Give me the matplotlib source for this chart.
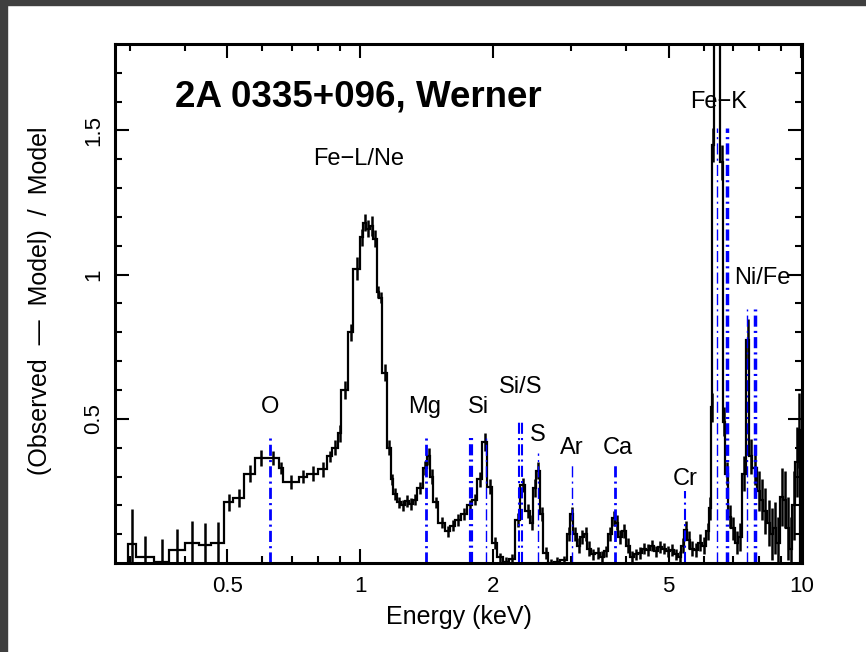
import numpy as np
import matplotlib
matplotlib.use("Agg")
import matplotlib.pyplot as plt
from matplotlib.patches import Rectangle
from matplotlib.ticker import NullFormatter

plt.rcParams['font.family'] = ['Liberation Sans', 'DejaVu Sans']
plt.rcParams['lines.scale_dashes'] = False

# residual spectrum: bin edges (keV), (obs - model) / model and 1-sigma errors
edges = [
    0.298, 0.310, 0.341, 0.369, 0.401, 0.431, 0.459, 0.492, 0.515, 0.546,
    0.578, 0.612, 0.655, 0.669, 0.728, 0.759, 0.803, 0.841, 0.864, 0.891,
    0.906, 0.939, 0.964, 1.000, 1.016, 1.032, 1.054, 1.070, 1.093, 1.104,
    1.122, 1.151, 1.176, 1.188, 1.213, 1.239, 1.265, 1.291, 1.319, 1.347,
    1.390, 1.418, 1.441, 1.463, 1.503, 1.559, 1.600, 1.643, 1.694, 1.748,
    1.795, 1.843, 1.892, 1.942, 1.992, 2.045, 2.110, 2.177, 2.246, 2.306,
    2.367, 2.430, 2.469, 2.508, 2.560, 2.601, 2.671, 2.754, 2.842, 2.947,
    2.994, 3.043, 3.107, 3.155, 3.221, 3.272, 3.340, 3.411, 3.502, 3.576,
    3.651, 3.728, 3.787, 3.847, 3.928, 4.011, 4.095, 4.181, 4.270, 4.360,
    4.452, 4.546, 4.642, 4.740, 4.840, 4.942, 5.046, 5.152, 5.261, 5.343,
    5.428, 5.513, 5.601, 5.719, 5.840, 5.964, 6.090, 6.185, 6.251, 6.284,
    6.350, 6.449, 6.552, 6.655, 6.725, 6.831, 6.939, 7.086, 7.198, 7.350,
    7.505, 7.624, 7.744, 7.943, 8.073, 8.200, 8.373, 8.506, 8.641, 8.777,
    8.962, 9.104, 9.247, 9.393, 9.541, 9.691, 9.845, 9.948,
]
ratio = [
    0.066, 0.020, 0.003, 0.045, 0.070, 0.063, 0.070, 0.210, 0.225, 0.310,
    0.365, 0.365, 0.330, 0.280, 0.300, 0.310, 0.325, 0.370, 0.400, 0.450,
    0.600, 0.800, 1.020, 1.130, 1.180, 1.160, 1.170, 1.125, 0.940, 0.920,
    0.660, 0.400, 0.290, 0.240, 0.210, 0.200, 0.215, 0.205, 0.220, 0.260,
    0.330, 0.370, 0.300, 0.210, 0.140, 0.110, 0.130, 0.150, 0.170, 0.200,
    0.220, 0.290, 0.420, 0.265, 0.070, 0.020, 0.005, 0.015, 0.150, 0.270,
    0.180, 0.140, 0.260, 0.320, 0.170, 0.035, 0.000, 0.005, 0.010, 0.100,
    0.170, 0.100, 0.060, 0.090, 0.100, 0.050, 0.030, 0.035, 0.020, 0.040,
    0.100, 0.155, 0.140, 0.090, 0.110, 0.060, 0.020, 0.030, 0.035, 0.050,
    0.045, 0.060, 0.040, 0.055, 0.050, 0.040, 0.045, 0.030, 0.020, 0.060,
    0.115, 0.080, 0.050, 0.045, 0.070, 0.060, 0.110, 0.190, 0.540, 1.450,
    2.400, 2.200, 1.390, 0.490, 0.310, 0.160, 0.120, 0.070, 0.090, 0.310,
    0.775, 0.370, 0.330, 0.250, 0.220, 0.180, 0.140, 0.100, 0.120, 0.070,
    0.230, 0.220, 0.120, 0.050, 0.200, 0.350, 0.460,
]
ratio_err = [
    0.120, 0.075, 0.080, 0.073, 0.076, 0.076, 0.072, 0.028, 0.030, 0.030,
    0.028, 0.025, 0.020, 0.025, 0.022, 0.025, 0.025, 0.020, 0.025, 0.030,
    0.030, 0.030, 0.040, 0.030, 0.030, 0.030, 0.035, 0.030, 0.020, 0.020,
    0.030, 0.025, 0.020, 0.020, 0.020, 0.020, 0.020, 0.020, 0.020, 0.020,
    0.025, 0.030, 0.025, 0.020, 0.020, 0.020, 0.020, 0.020, 0.020, 0.020,
    0.020, 0.025, 0.030, 0.025, 0.020, 0.015, 0.015, 0.015, 0.025, 0.025,
    0.025, 0.025, 0.030, 0.030, 0.025, 0.020, 0.015, 0.015, 0.015, 0.025,
    0.025, 0.025, 0.025, 0.025, 0.025, 0.025, 0.020, 0.020, 0.020, 0.020,
    0.025, 0.025, 0.025, 0.025, 0.025, 0.025, 0.020, 0.020, 0.020, 0.020,
    0.020, 0.020, 0.020, 0.020, 0.020, 0.020, 0.020, 0.020, 0.020, 0.025,
    0.030, 0.030, 0.025, 0.025, 0.030, 0.030, 0.030, 0.040, 0.050, 0.060,
    0.080, 0.080, 0.060, 0.050, 0.040, 0.040, 0.040, 0.040, 0.050, 0.060,
    0.070, 0.060, 0.060, 0.070, 0.070, 0.080, 0.080, 0.090, 0.090, 0.090,
    0.100, 0.100, 0.110, 0.110, 0.120, 0.120, 0.130,
]

# redshifted line energies (keV) and marker heights
line_energy = [0.625, 1.411, 1.785, 1.93, 2.295, 2.33, 2.53, 3.02, 3.77, 5.46,
               6.45, 6.77, 7.53, 7.83]
line_top = [0.44, 0.44, 0.44, 0.44, 0.50, 0.50, 0.38, 0.35, 0.35, 0.25,
            1.51, 1.51, 0.88, 0.88]
line_lw = [2.0, 2.0, 3.0, 1.0, 1.5, 1.5, 1.0, 1.0, 2.0, 1.5, 1.0, 2.5, 1.0, 2.5]

labels = ['O', 'Mg', 'Si', 'Si/S', 'S', 'Ar', 'Ca', 'Cr', 'Fe\u2212K', 'Ni/Fe',
          'Fe\u2212L/Ne']
label_xy = [(0.625, 0.54), (1.40, 0.54), (1.85, 0.54), (2.31, 0.61),
            (2.53, 0.445), (3.01, 0.40), (3.83, 0.40), (5.46, 0.29),
            (6.49, 1.60), (8.15, 0.99), (0.99, 1.40)]

edges = np.array(edges)
ratio = np.array(ratio)
ratio_err = np.array(ratio_err)

fig = plt.figure(figsize=(8.66, 6.52), dpi=100)
ax = fig.add_axes([115 / 866, 1 - 563 / 652, 687 / 866, 519 / 652])

ax.stairs(ratio, edges, color='k', lw=1.6)
centers = np.sqrt(edges[:-1] * edges[1:])
ax.vlines(centers, ratio - ratio_err, ratio + ratio_err, colors='k', lw=1.8)

for e, top, lw in zip(line_energy, line_top, line_lw):
    ax.plot([e, e], [0, top], color='#0000ff', lw=lw,
            linestyle=(0, (8, 3, 1.5, 3)))

for txt, (x, y) in zip(labels, label_xy):
    ax.text(x, y, txt, fontsize=17, ha='center', va='center')

ax.text(0.088, 0.898, '2A 0335+096, Werner', transform=ax.transAxes,
        fontsize=26.5, fontweight='bold', ha='left', va='center')

ax.set_xscale('log')
ax.set_xlim(0.278, 10.03)
ax.set_ylim(0, 1.8)
ax.set_xticks([0.5, 1, 2, 5, 10], ['0.5', '1', '2', '5', '10'])
ax.set_xticks([0.3, 0.4, 0.6, 0.7, 0.8, 0.9, 3, 4, 6, 7, 8, 9], minor=True)
ax.xaxis.set_minor_formatter(NullFormatter())
ax.set_yticks([0.5, 1, 1.5], ['0.5', '1', '1.5'])
ax.set_yticks(np.arange(0.1, 1.8, 0.1), minor=True)
ax.tick_params(which='both', direction='in', top=True, right=True, width=1.5,
               labelsize=16)
ax.tick_params(which='major', length=10)
ax.tick_params(which='minor', length=5)
ax.tick_params(axis='x', pad=9)
ax.tick_params(axis='y', pad=8, labelrotation=90)
for lbl in ax.get_yticklabels():
    lbl.set_va('center')
for s in ax.spines.values():
    s.set_linewidth(2.2)

fig.text(458.5 / 866, 1 - 617 / 652, 'Energy (keV)', fontsize=18,
         ha='center', va='center')
fig.text(40 / 866, 1 - 301 / 652, '(Observed  \u2014  Model)  /  Model', fontsize=18,
         rotation=90, ha='center', va='center')

# dark window frame on the top and left edges
fig.patches.append(Rectangle((0, 1 - 5 / 652), 1, 5 / 652, transform=fig.transFigure,
                             color='#3f3f3f', zorder=10))
fig.patches.append(Rectangle((0, 0), 7 / 866, 1, transform=fig.transFigure,
                             color='#3f3f3f', zorder=10))

fig.savefig('out.png', dpi=100)
